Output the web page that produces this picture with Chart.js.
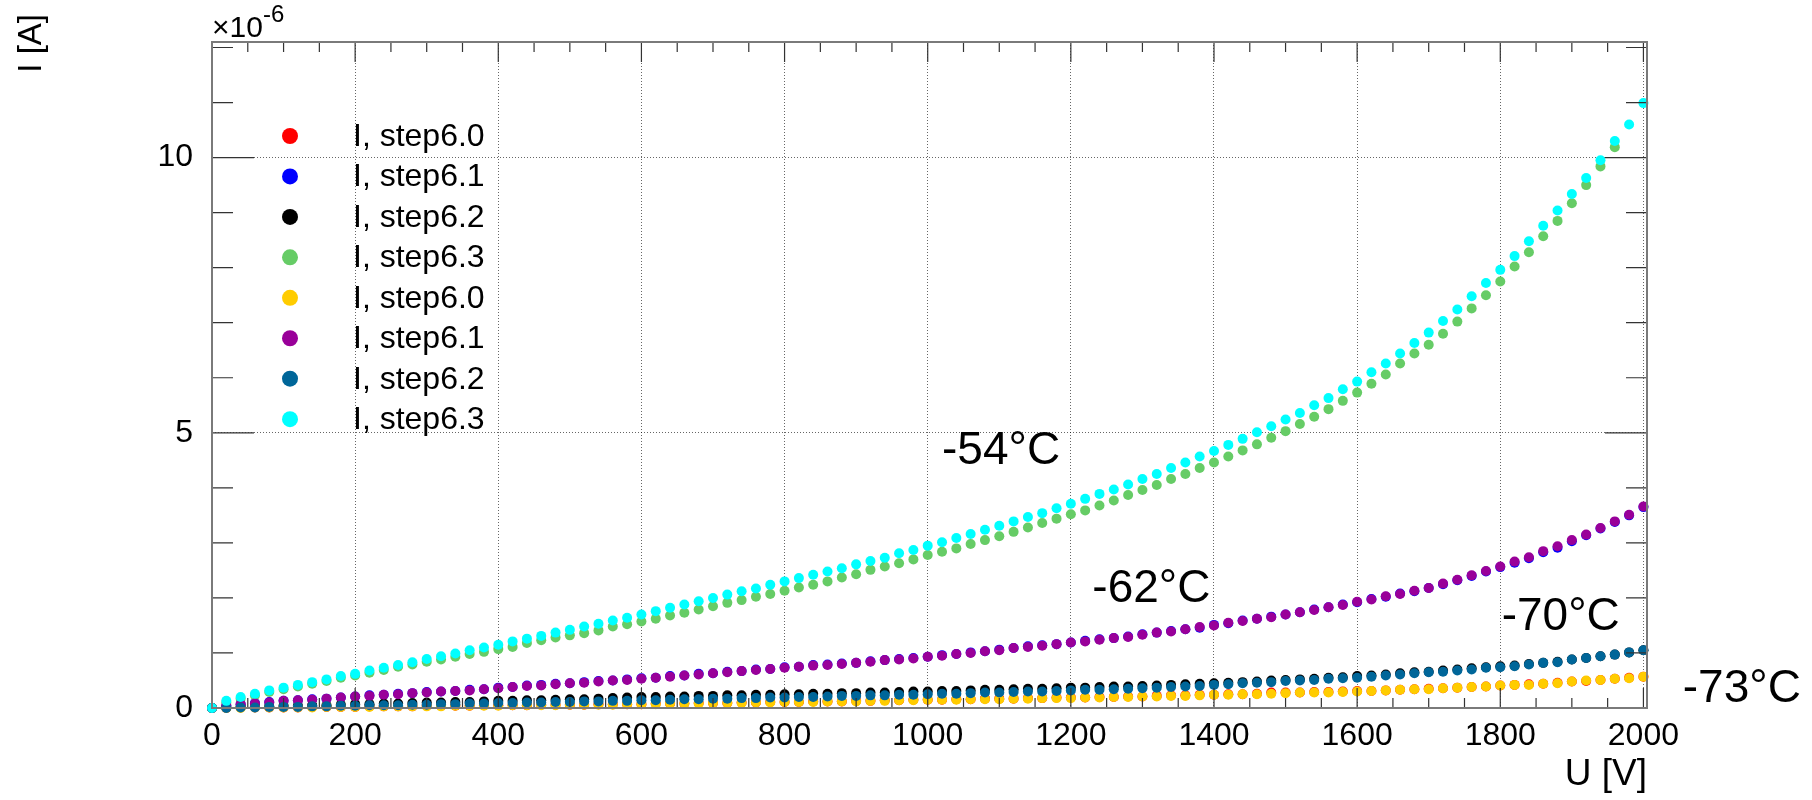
<!DOCTYPE html>
<html>
<head>
<meta charset="utf-8">
<script src="https://cdn.jsdelivr.net/npm/chart.js@4.4.0/dist/chart.umd.min.js"></script>
<style>
  html, body { margin: 0; padding: 0; background: #fff; }
  #wrap { width: 1812px; height: 800px; }
</style>
</head>
<body>
<div id="wrap"><canvas id="chart" width="1812" height="800"></canvas></div>
<script>
// I-V scan, values in units of 1e-6 A
const voltage = [
  0, 20, 40, 60, 80, 100, 120, 140, 160, 180,
  200, 220, 240, 260, 280, 300, 320, 340, 360, 380,
  400, 420, 440, 460, 480, 500, 520, 540, 560, 580,
  600, 620, 640, 660, 680, 700, 720, 740, 760, 780,
  800, 820, 840, 860, 880, 900, 920, 940, 960, 980,
  1000, 1020, 1040, 1060, 1080, 1100, 1120, 1140, 1160, 1180,
  1200, 1220, 1240, 1260, 1280, 1300, 1320, 1340, 1360, 1380,
  1400, 1420, 1440, 1460, 1480, 1500, 1520, 1540, 1560, 1580,
  1600, 1620, 1640, 1660, 1680, 1700, 1720, 1740, 1760, 1780,
  1800, 1820, 1840, 1860, 1880, 1900, 1920, 1940, 1960, 1980,
  2000
];

const iStep60a = [
  0.00, 0.00, 0.01, 0.01, 0.01, 0.01, 0.01, 0.02, 0.02, 0.02,
  0.02, 0.03, 0.03, 0.03, 0.03, 0.04, 0.04, 0.04, 0.04, 0.05,
  0.05, 0.05, 0.05, 0.06, 0.06, 0.06, 0.06, 0.07, 0.07, 0.07,
  0.07, 0.08, 0.08, 0.08, 0.09, 0.09, 0.09, 0.10, 0.10, 0.11,
  0.11, 0.11, 0.12, 0.12, 0.12, 0.13, 0.13, 0.14, 0.14, 0.15,
  0.15, 0.15, 0.16, 0.16, 0.17, 0.17, 0.17, 0.18, 0.18, 0.19,
  0.19, 0.19, 0.20, 0.20, 0.21, 0.21, 0.22, 0.23, 0.23, 0.24,
  0.24, 0.25, 0.25, 0.26, 0.28, 0.28, 0.28, 0.29, 0.29, 0.30,
  0.31, 0.31, 0.32, 0.33, 0.34, 0.35, 0.36, 0.37, 0.38, 0.39,
  0.41, 0.42, 0.43, 0.44, 0.46, 0.48, 0.49, 0.51, 0.53, 0.55,
  0.57
];
const iStep61a = [
  0.00, 0.04, 0.07, 0.09, 0.11, 0.13, 0.14, 0.16, 0.17, 0.19,
  0.21, 0.23, 0.24, 0.26, 0.27, 0.29, 0.30, 0.31, 0.33, 0.34,
  0.37, 0.38, 0.41, 0.42, 0.44, 0.45, 0.47, 0.49, 0.50, 0.52,
  0.54, 0.55, 0.58, 0.59, 0.62, 0.63, 0.66, 0.67, 0.70, 0.71,
  0.74, 0.75, 0.78, 0.79, 0.81, 0.82, 0.85, 0.87, 0.89, 0.91,
  0.93, 0.96, 0.98, 1.01, 1.03, 1.06, 1.09, 1.12, 1.14, 1.16,
  1.19, 1.22, 1.25, 1.27, 1.30, 1.34, 1.37, 1.40, 1.43, 1.46,
  1.51, 1.54, 1.59, 1.62, 1.66, 1.70, 1.74, 1.79, 1.83, 1.88,
  1.92, 1.98, 2.02, 2.08, 2.12, 2.18, 2.25, 2.32, 2.40, 2.48,
  2.56, 2.64, 2.72, 2.83, 2.91, 3.03, 3.14, 3.26, 3.38, 3.50,
  3.65
];
const iStep62a = [
  0.00, 0.01, 0.02, 0.03, 0.03, 0.04, 0.04, 0.05, 0.05, 0.06,
  0.07, 0.07, 0.08, 0.08, 0.09, 0.10, 0.10, 0.11, 0.11, 0.12,
  0.13, 0.13, 0.14, 0.14, 0.15, 0.16, 0.16, 0.17, 0.18, 0.19,
  0.20, 0.20, 0.21, 0.21, 0.22, 0.22, 0.23, 0.23, 0.24, 0.24,
  0.25, 0.25, 0.26, 0.26, 0.27, 0.27, 0.28, 0.28, 0.29, 0.30,
  0.30, 0.31, 0.31, 0.32, 0.33, 0.33, 0.34, 0.35, 0.35, 0.36,
  0.37, 0.37, 0.38, 0.39, 0.39, 0.40, 0.41, 0.42, 0.43, 0.44,
  0.45, 0.46, 0.47, 0.48, 0.50, 0.51, 0.52, 0.53, 0.55, 0.56,
  0.58, 0.59, 0.61, 0.63, 0.65, 0.66, 0.68, 0.70, 0.72, 0.74,
  0.76, 0.77, 0.80, 0.82, 0.84, 0.88, 0.91, 0.94, 0.97, 1.01,
  1.05
];
const iStep63a = [
  0.00, 0.10, 0.17, 0.23, 0.29, 0.34, 0.39, 0.44, 0.49, 0.55,
  0.59, 0.64, 0.69, 0.75, 0.79, 0.84, 0.88, 0.93, 0.98, 1.02,
  1.07, 1.11, 1.18, 1.23, 1.28, 1.32, 1.36, 1.41, 1.48, 1.52,
  1.57, 1.62, 1.68, 1.73, 1.79, 1.85, 1.91, 1.96, 2.02, 2.07,
  2.13, 2.19, 2.24, 2.30, 2.37, 2.43, 2.51, 2.57, 2.63, 2.70,
  2.78, 2.84, 2.90, 2.98, 3.05, 3.12, 3.20, 3.28, 3.36, 3.44,
  3.52, 3.59, 3.68, 3.77, 3.87, 3.96, 4.05, 4.16, 4.25, 4.36,
  4.46, 4.57, 4.68, 4.79, 4.91, 5.03, 5.16, 5.29, 5.43, 5.58,
  5.73, 5.89, 6.06, 6.26, 6.44, 6.60, 6.80, 7.02, 7.26, 7.50,
  7.75, 8.02, 8.28, 8.57, 8.85, 9.17, 9.50, 9.84, 10.19
];
const iStep60b = [
  0.00, 0.00, 0.00, 0.01, 0.01, 0.01, 0.01, 0.01, 0.02, 0.02,
  0.02, 0.02, 0.03, 0.03, 0.03, 0.03, 0.03, 0.04, 0.04, 0.04,
  0.04, 0.05, 0.05, 0.05, 0.05, 0.06, 0.06, 0.06, 0.06, 0.07,
  0.07, 0.07, 0.08, 0.08, 0.08, 0.09, 0.09, 0.09, 0.10, 0.10,
  0.11, 0.11, 0.11, 0.12, 0.12, 0.12, 0.13, 0.13, 0.14, 0.14,
  0.15, 0.15, 0.15, 0.16, 0.16, 0.16, 0.17, 0.17, 0.18, 0.18,
  0.18, 0.19, 0.19, 0.20, 0.20, 0.21, 0.21, 0.22, 0.22, 0.23,
  0.24, 0.24, 0.25, 0.25, 0.26, 0.27, 0.28, 0.28, 0.28, 0.29,
  0.30, 0.31, 0.32, 0.33, 0.34, 0.34, 0.36, 0.37, 0.38, 0.39,
  0.41, 0.42, 0.42, 0.44, 0.45, 0.48, 0.50, 0.51, 0.53, 0.54,
  0.57
];
const iStep61b = [
  0.00, 0.04, 0.07, 0.08, 0.10, 0.13, 0.14, 0.15, 0.17, 0.19,
  0.21, 0.22, 0.24, 0.25, 0.27, 0.28, 0.30, 0.31, 0.32, 0.34,
  0.36, 0.38, 0.40, 0.41, 0.43, 0.45, 0.46, 0.48, 0.50, 0.51,
  0.53, 0.55, 0.57, 0.59, 0.61, 0.63, 0.65, 0.67, 0.69, 0.71,
  0.73, 0.75, 0.77, 0.78, 0.80, 0.82, 0.84, 0.87, 0.88, 0.90,
  0.93, 0.95, 0.98, 1.00, 1.03, 1.05, 1.09, 1.11, 1.13, 1.16,
  1.19, 1.21, 1.24, 1.27, 1.29, 1.33, 1.37, 1.39, 1.43, 1.47,
  1.50, 1.55, 1.58, 1.62, 1.65, 1.70, 1.74, 1.78, 1.83, 1.87,
  1.93, 1.97, 2.03, 2.07, 2.13, 2.18, 2.26, 2.33, 2.41, 2.49,
  2.57, 2.66, 2.74, 2.85, 2.94, 3.05, 3.15, 3.27, 3.39, 3.51,
  3.66
];
const iStep62b = [
  0.00, 0.00, 0.01, 0.01, 0.02, 0.02, 0.02, 0.03, 0.03, 0.04,
  0.04, 0.05, 0.05, 0.05, 0.06, 0.06, 0.07, 0.07, 0.08, 0.08,
  0.09, 0.09, 0.10, 0.10, 0.11, 0.11, 0.12, 0.12, 0.13, 0.13,
  0.14, 0.14, 0.15, 0.16, 0.16, 0.17, 0.17, 0.18, 0.18, 0.19,
  0.19, 0.20, 0.20, 0.21, 0.22, 0.22, 0.23, 0.23, 0.24, 0.24,
  0.25, 0.26, 0.26, 0.27, 0.28, 0.28, 0.29, 0.30, 0.30, 0.31,
  0.32, 0.33, 0.33, 0.34, 0.35, 0.36, 0.37, 0.38, 0.39, 0.40,
  0.42, 0.43, 0.45, 0.46, 0.47, 0.49, 0.50, 0.51, 0.53, 0.54,
  0.55, 0.57, 0.59, 0.61, 0.63, 0.65, 0.66, 0.68, 0.70, 0.73,
  0.74, 0.76, 0.79, 0.82, 0.83, 0.88, 0.91, 0.94, 0.97, 1.01,
  1.05
];
const iStep63b = [
  0.00, 0.13, 0.20, 0.26, 0.32, 0.37, 0.42, 0.47, 0.52, 0.58,
  0.62, 0.68, 0.73, 0.78, 0.83, 0.89, 0.94, 0.99, 1.05, 1.10,
  1.15, 1.21, 1.26, 1.31, 1.37, 1.42, 1.48, 1.53, 1.59, 1.64,
  1.70, 1.76, 1.82, 1.88, 1.94, 2.00, 2.06, 2.12, 2.17, 2.24,
  2.30, 2.36, 2.42, 2.48, 2.54, 2.61, 2.67, 2.73, 2.81, 2.87,
  2.95, 3.01, 3.09, 3.16, 3.24, 3.31, 3.39, 3.47, 3.54, 3.63,
  3.71, 3.80, 3.89, 3.97, 4.06, 4.16, 4.25, 4.36, 4.46, 4.57,
  4.67, 4.78, 4.89, 5.01, 5.12, 5.24, 5.36, 5.50, 5.63, 5.79,
  5.93, 6.10, 6.26, 6.44, 6.63, 6.82, 7.03, 7.24, 7.48, 7.72,
  7.96, 8.21, 8.48, 8.76, 9.04, 9.34, 9.63, 9.95, 10.30, 10.60,
  10.99
];

const seriesValues = [iStep60a, iStep61a, iStep62a, iStep63a, iStep60b, iStep61b, iStep62b, iStep63b];
const seriesLabels = ['I, step6.0', 'I, step6.1', 'I, step6.2', 'I, step6.3',
                      'I, step6.0', 'I, step6.1', 'I, step6.2', 'I, step6.3'];
const seriesColors = ['#ff0000', '#0000ff', '#000000', '#66cc66',
                      '#ffcc00', '#990099', '#006699', '#00ffff'];

const xTicks = [0, 200, 400, 600, 800, 1000, 1200, 1400, 1600, 1800, 2000];
const yTicks = [0, 5, 10];
const tempLabels = ['-54°C', '-62°C', '-70°C', '-73°C'];

const FONT = '"Liberation Sans", Arial, Helvetica, sans-serif';

// ROOT-like frame, inner ticks, legend and text annotations
const rootDecor = {
  id: 'rootDecor',
  afterDatasetsDraw(chart) {
    const { ctx, chartArea: a, scales: { x, y } } = chart;
    ctx.save();

    // tick marks on all four sides
    ctx.strokeStyle = '#333';
    ctx.lineWidth = 1.2;
    ctx.beginPath();
    for (let v = 0; v <= 2000; v += 50) {
      const px = x.getPixelForValue(v);
      const len = v % 200 === 0 ? 20 : 10;
      ctx.moveTo(px, a.bottom); ctx.lineTo(px, a.bottom - len);
      ctx.moveTo(px, a.top); ctx.lineTo(px, a.top + len);
    }
    for (let v = 0; v <= 12; v += 1) {
      const py = y.getPixelForValue(v);
      const len = v % 5 === 0 ? 42 : 21;
      ctx.moveTo(a.left, py); ctx.lineTo(a.left + len, py);
      ctx.moveTo(a.right, py); ctx.lineTo(a.right - len, py);
    }
    ctx.stroke();

    // frame
    ctx.strokeStyle = '#7a7a7a';
    ctx.lineWidth = 2;
    ctx.strokeRect(a.left, a.top, a.right - a.left, a.bottom - a.top);

    // exponent
    ctx.fillStyle = '#000';
    ctx.textAlign = 'left';
    ctx.textBaseline = 'alphabetic';
    ctx.font = '30px ' + FONT;
    ctx.fillText('\u00d710', a.left, 37);
    const w = ctx.measureText('\u00d710').width;
    ctx.font = '24px ' + FONT;
    ctx.fillText('-6', a.left + w, 22);

    // y axis title, ROOT style: ends above the frame
    ctx.save();
    ctx.translate(32, 14);
    ctx.rotate(-Math.PI / 2);
    ctx.font = '33px ' + FONT;
    ctx.textAlign = 'right';
    ctx.textBaseline = 'middle';
    ctx.fillText('I [A]', 0, 0);
    ctx.restore();

    // legend
    ctx.font = '32px ' + FONT;
    ctx.textAlign = 'left';
    ctx.textBaseline = 'middle';
    seriesLabels.forEach((lab, i) => {
      const cy = 136 + i * 40.45;
      ctx.fillStyle = seriesColors[i];
      ctx.beginPath();
      ctx.arc(290, cy, 8, 0, Math.PI * 2);
      ctx.fill();
      ctx.fillStyle = '#000';
      ctx.fillText(lab, 353, cy + 1);
    });

    // temperature annotations, anchored in data units
    const anchors = [[1020, 4.44], [1230, 1.92], [1802, 1.41], [2055, 0.11]];
    ctx.font = '46px ' + FONT;
    ctx.textBaseline = 'alphabetic';
    tempLabels.forEach((t, i) => {
      ctx.fillText(t, x.getPixelForValue(anchors[i][0]), y.getPixelForValue(anchors[i][1]));
    });

    ctx.restore();
  }
};

const ctx = document.getElementById('chart').getContext('2d');
new Chart(ctx, {
  type: 'scatter',
  data: {
    datasets: seriesValues.map((vals, i) => ({
      label: seriesLabels[i],
      data: vals.map((v, k) => ({ x: voltage[k], y: v })),
      backgroundColor: seriesColors[i],
      borderWidth: 0,
      pointRadius: 5,
      pointHoverRadius: 5,
      order: seriesValues.length - i,
      clip: false
    }))
  },
  options: {
    responsive: false,
    devicePixelRatio: 1,
    animation: false,
    events: [],
    layout: { padding: { top: 42, right: 165, left: 0, bottom: 0 } },
    plugins: {
      legend: { display: false },
      tooltip: { enabled: false }
    },
    scales: {
      x: {
        type: 'linear',
        min: 0,
        max: 2005,
        afterBuildTicks: s => { s.ticks = xTicks.map(v => ({ value: v })); },
        afterFit: s => { s.height = 92; },
        border: { display: false, dash: [1, 2] },
        grid: { color: 'rgba(0,0,0,0.6)', lineWidth: 1, drawTicks: false },
        ticks: {
          padding: 9,
          maxRotation: 0,
          autoSkip: false,
          color: '#000',
          font: { family: FONT, size: 32 },
          callback: v => String(v)
        },
        title: {
          display: true,
          text: 'U [V]',
          align: 'end',
          color: '#000',
          font: { family: FONT, size: 37 },
          padding: { top: 0, bottom: 3 }
        }
      },
      y: {
        type: 'linear',
        min: 0,
        max: 12.1,
        afterBuildTicks: s => { s.ticks = yTicks.map(v => ({ value: v })); },
        afterFit: s => { s.width = 212; },
        border: { display: false, dash: [1, 2] },
        grid: { color: 'rgba(0,0,0,0.6)', lineWidth: 1, drawTicks: false },
        ticks: {
          padding: 19,
          color: '#000',
          font: { family: FONT, size: 32 },
          callback: v => String(v)
        },
        title: { display: false }
      }
    }
  },
  plugins: [rootDecor]
});
</script>
</body>
</html>
